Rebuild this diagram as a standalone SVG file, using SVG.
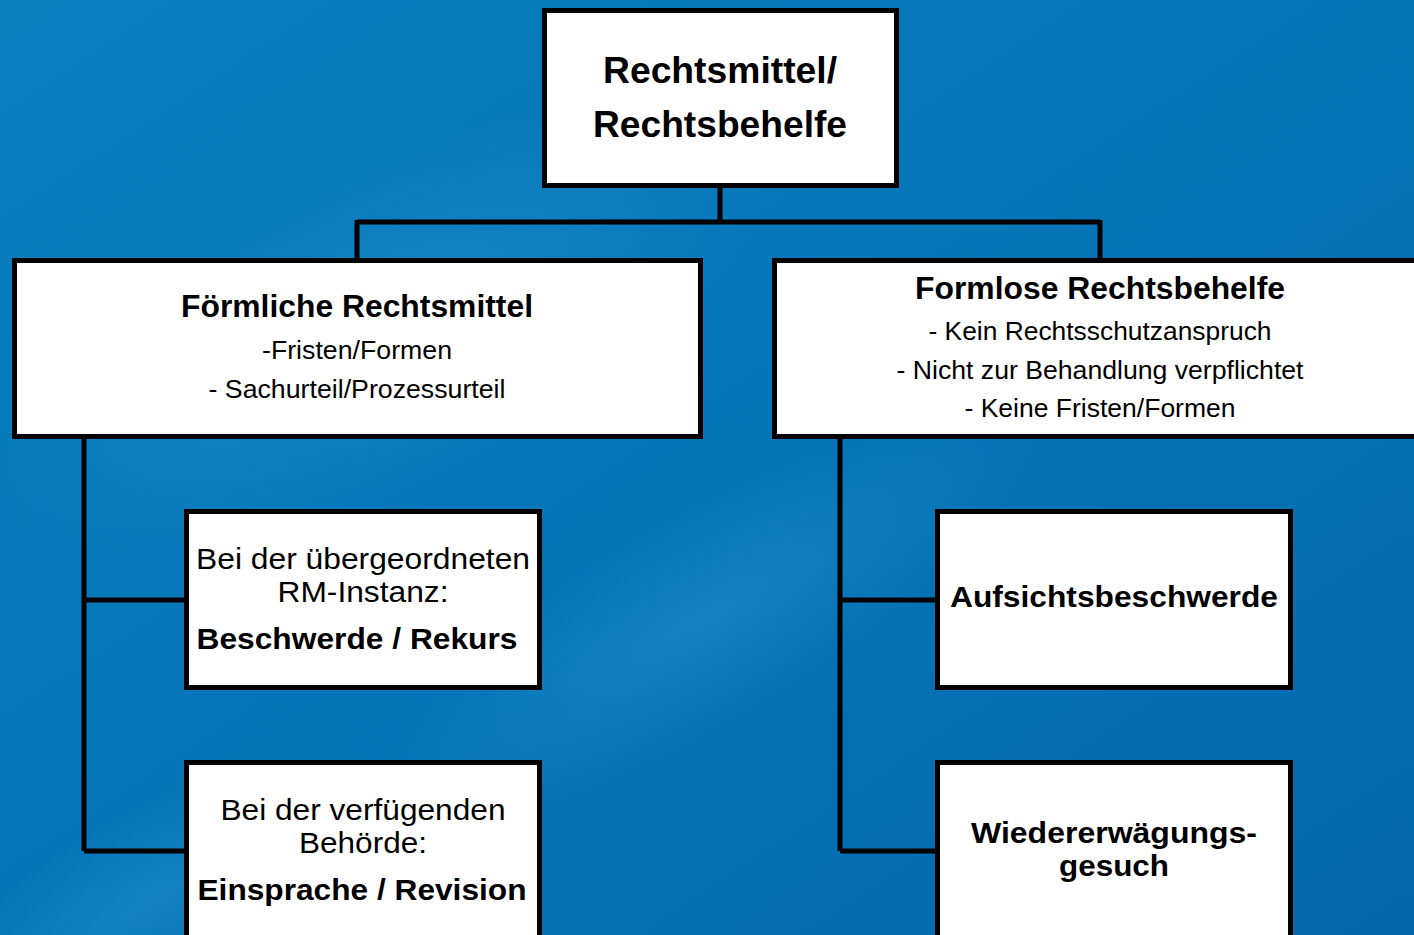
<svg xmlns="http://www.w3.org/2000/svg" width="1414" height="935" viewBox="0 0 1414 935">
<defs>
<linearGradient id="bg" x1="0" y1="0" x2="1" y2="1">
<stop offset="0" stop-color="#0a7fc0"/>
<stop offset="0.5" stop-color="#0575b8"/>
<stop offset="1" stop-color="#0468ad"/>
</linearGradient>
<radialGradient id="hl1" cx="0.5" cy="0.5" r="0.5">
<stop offset="0" stop-color="#3aa6d8" stop-opacity="0.28"/>
<stop offset="1" stop-color="#3aa6d8" stop-opacity="0"/>
</radialGradient>
<style>
.box{fill:#fff;stroke:#000;stroke-width:5}
.ln{fill:none;stroke:#000;stroke-width:5}
text{font-family:"Liberation Sans",Arial,sans-serif;fill:#000;text-anchor:middle}
.b{font-weight:bold}
</style>
</defs>
<rect width="1414" height="935" fill="url(#bg)"/>
<ellipse cx="380" cy="330" rx="420" ry="160" fill="url(#hl1)" transform="rotate(-25 380 330)"/>
<ellipse cx="700" cy="620" rx="380" ry="110" fill="url(#hl1)" transform="rotate(-30 700 620)"/>
<ellipse cx="150" cy="900" rx="260" ry="90" fill="url(#hl1)" transform="rotate(-30 150 900)"/>
<g id="connectors">
<path class="ln" d="M720 186V222M357 222H1100M357 220V260M1100 220V260"/>
<path class="ln" d="M84 437V851M84 600H186M84 851H186"/>
<path class="ln" d="M840 437V851M840 600H937M840 851H937"/>
</g>
<g id="root">
<rect class="box" x="544.5" y="10.5" width="352" height="175"/>
<text class="b" x="720" y="83" font-size="36" textLength="234" lengthAdjust="spacingAndGlyphs">Rechtsmittel/</text>
<text class="b" x="720" y="137" font-size="36" textLength="254" lengthAdjust="spacingAndGlyphs">Rechtsbehelfe</text>
</g>
<g id="foermlich">
<rect class="box" x="14.5" y="260.5" width="686" height="176"/>
<text class="b" x="357" y="317" font-size="31" textLength="352" lengthAdjust="spacingAndGlyphs">Förmliche Rechtsmittel</text>
<text x="357" y="359" font-size="25" textLength="190" lengthAdjust="spacingAndGlyphs">-Fristen/Formen</text>
<text x="357" y="398" font-size="25" textLength="297" lengthAdjust="spacingAndGlyphs">- Sachurteil/Prozessurteil</text>
</g>
<g id="formlos">
<rect class="box" x="774.5" y="260.5" width="700" height="176"/>
<text class="b" x="1100" y="299" font-size="31" textLength="370" lengthAdjust="spacingAndGlyphs">Formlose Rechtsbehelfe</text>
<text x="1100" y="340" font-size="25" textLength="343" lengthAdjust="spacingAndGlyphs">- Kein Rechtsschutzanspruch</text>
<text x="1100" y="379" font-size="25" textLength="407" lengthAdjust="spacingAndGlyphs">- Nicht zur Behandlung verpflichtet</text>
<text x="1100" y="417" font-size="25" textLength="271" lengthAdjust="spacingAndGlyphs">- Keine Fristen/Formen</text>
</g>
<g id="beschwerde">
<rect class="box" x="186.5" y="511.5" width="353" height="176"/>
<text x="363" y="569" font-size="30" textLength="334" lengthAdjust="spacingAndGlyphs">Bei der übergeordneten</text>
<text x="363" y="602" font-size="30" textLength="171" lengthAdjust="spacingAndGlyphs">RM-Instanz:</text>
<text class="b" x="357" y="649" font-size="30" textLength="321" lengthAdjust="spacingAndGlyphs">Beschwerde / Rekurs</text>
</g>
<g id="einsprache">
<rect class="box" x="186.5" y="762.5" width="353" height="190"/>
<text x="363" y="820" font-size="30" textLength="285" lengthAdjust="spacingAndGlyphs">Bei der verfügenden</text>
<text x="363" y="853" font-size="30" textLength="128" lengthAdjust="spacingAndGlyphs">Behörde:</text>
<text class="b" x="362" y="900" font-size="30" textLength="329" lengthAdjust="spacingAndGlyphs">Einsprache / Revision</text>
</g>
<g id="aufsicht">
<rect class="box" x="937.5" y="511.5" width="353" height="176"/>
<text class="b" x="1114" y="607" font-size="30" textLength="328" lengthAdjust="spacingAndGlyphs">Aufsichtsbeschwerde</text>
</g>
<g id="wiedererwaegung">
<rect class="box" x="937.5" y="762.5" width="353" height="190"/>
<text class="b" x="1114" y="843" font-size="30" textLength="286" lengthAdjust="spacingAndGlyphs">Wiedererwägungs-</text>
<text class="b" x="1114" y="876" font-size="30" textLength="110" lengthAdjust="spacingAndGlyphs">gesuch</text>
</g>
</svg>
